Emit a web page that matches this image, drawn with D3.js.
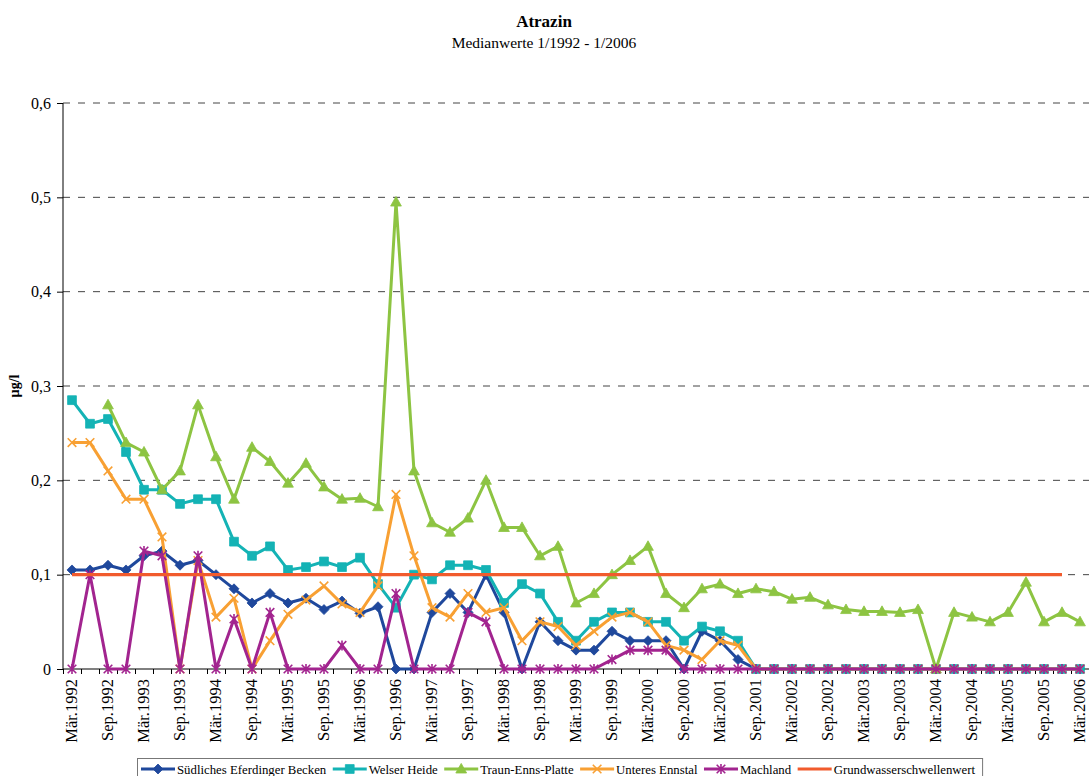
<!DOCTYPE html>
<html>
<head>
<meta charset="utf-8">
<script src="https://cdn.jsdelivr.net/npm/d3@7"></script>
<style>
  body { margin: 0; background: #fff; }
  svg { display: block; }
  text { font-family: "Liberation Serif", "Times New Roman", serif; fill: #000; }
</style>
</head>
<body>
<svg id="chart" width="1089" height="776" font-family="Liberation Serif, serif"></svg>
<script>
// Quarterly sampling dates (Mär, Jun, Sep, Dez)
const categories = [
  "Mär.1992","Jun.1992","Sep.1992","Dez.1992",
  "Mär.1993","Jun.1993","Sep.1993","Dez.1993",
  "Mär.1994","Jun.1994","Sep.1994","Dez.1994",
  "Mär.1995","Jun.1995","Sep.1995","Dez.1995",
  "Mär.1996","Jun.1996","Sep.1996","Dez.1996",
  "Mär.1997","Jun.1997","Sep.1997","Dez.1997",
  "Mär.1998","Jun.1998","Sep.1998","Dez.1998",
  "Mär.1999","Jun.1999","Sep.1999","Dez.1999",
  "Mär.2000","Jun.2000","Sep.2000","Dez.2000",
  "Mär.2001","Jun.2001","Sep.2001","Dez.2001",
  "Mär.2002","Jun.2002","Sep.2002","Dez.2002",
  "Mär.2003","Jun.2003","Sep.2003","Dez.2003",
  "Mär.2004","Jun.2004","Sep.2004","Dez.2004",
  "Mär.2005","Jun.2005","Sep.2005","Dez.2005",
  "Mär.2006"
];

// Axis labels shown on the category axis (every second quarter)
const xTickLabels = categories.filter((c, i) => i % 2 === 0);
const yTicks = [0, 0.1, 0.2, 0.3, 0.4, 0.5, 0.6];

// Median values in µg/l
const suedlichesEferdingerBecken = [
  0.105, 0.105, 0.11, 0.105, 0.12, 0.125, 0.11, 0.115, 0.1, 0.085,
  0.07, 0.08, 0.07, 0.075, 0.063, 0.072, 0.059, 0.066, 0, 0,
  0.06, 0.08, 0.06, 0.1, 0.06, 0, 0.05, 0.03, 0.02, 0.02,
  0.04, 0.03, 0.03, 0.03, 0, 0.04, 0.03, 0.01, 0, 0,
  0, 0, 0, 0, 0, 0, 0, 0, 0, 0,
  0, 0, 0, 0, 0, 0, 0
];
const welserHeide = [
  0.285, 0.26, 0.265, 0.23, 0.19, 0.19, 0.175, 0.18, 0.18, 0.135,
  0.12, 0.13, 0.105, 0.108, 0.114, 0.108, 0.118, 0.09, 0.065, 0.1,
  0.095, 0.11, 0.11, 0.105, 0.07, 0.09, 0.08, 0.05, 0.03, 0.05,
  0.06, 0.06, 0.05, 0.05, 0.03, 0.045, 0.04, 0.03, 0, 0,
  0, 0, 0, 0, 0, 0, 0, 0, 0, 0,
  0, 0, 0, 0, 0, 0, 0
];
const traunEnnsPlatte = [
  null, null, 0.28, 0.24, 0.23, 0.19, 0.21, 0.28, 0.225, 0.18,
  0.235, 0.22, 0.197, 0.218, 0.193, 0.18, 0.181, 0.172, 0.495, 0.21,
  0.155, 0.145, 0.16, 0.2, 0.15, 0.15, 0.12, 0.13, 0.07, 0.08,
  0.1, 0.115, 0.13, 0.08, 0.065, 0.085, 0.09, 0.08, 0.085, 0.082,
  0.074, 0.076, 0.068, 0.063, 0.061, 0.061, 0.06, 0.063, 0, 0.06,
  0.055, 0.05, 0.06, 0.092, 0.05, 0.06, 0.05
];
const unteresEnnstal = [
  0.24, 0.24, 0.21, 0.18, 0.18, 0.14, 0, 0.115, 0.055, 0.075,
  0, 0.03, 0.058, 0.073, 0.088, 0.069, 0.06, 0.088, 0.185, 0.12,
  0.065, 0.055, 0.08, 0.06, 0.065, 0.03, 0.05, 0.045, 0.025, 0.04,
  0.055, 0.06, 0.05, 0.025, 0.02, 0.01, 0.03, 0.025, 0, 0,
  0, 0, 0, 0, 0, 0, 0, 0, 0, 0,
  0, 0, 0, 0, 0, 0, 0
];
const machland = [
  0, 0.1, 0, 0, 0.125, 0.12, 0, 0.12, 0, 0.053,
  0, 0.06, 0, 0, 0, 0.025, 0, 0, 0.08, 0,
  0, 0, 0.06, 0.05, 0, 0, 0, 0, 0, 0,
  0.01, 0.02, 0.02, 0.02, 0, 0, 0, 0, 0, 0,
  0, 0, 0, 0, 0, 0, 0, 0, 0, 0,
  0, 0, 0, 0, 0, 0, 0
];
// Groundwater threshold value, drawn through Dez.2005
const grundwasserschwellenwert = categories.map((c, i) => i < 56 ? 0.1 : null);

const series = [
  { name: "Südliches Eferdinger Becken", values: suedlichesEferdingerBecken, color: "#1f489c", marker: "diamond" },
  { name: "Welser Heide", values: welserHeide, color: "#14b3b5", marker: "square" },
  { name: "Traun-Enns-Platte", values: traunEnnsPlatte, color: "#8dc442", marker: "triangle" },
  { name: "Unteres Ennstal", values: unteresEnnstal, color: "#f8a033", marker: "x" },
  { name: "Machland", values: machland, color: "#a2248f", marker: "star" },
  { name: "Grundwasserschwellenwert", values: grundwasserschwellenwert, color: "#f15b2d", marker: null }
];

const FONT = "Liberation Serif, serif";
const svg = d3.select("#chart");
const W = 1089;
const plot = { left: 63, right: 1089, top: 103, bottom: 669 };

const x = d3.scaleBand().domain(categories).range([plot.left, plot.right]).padding(0);
const cx = c => x(c) + x.bandwidth() / 2;
const y = d3.scaleLinear().domain([0, 0.6]).range([plot.bottom, plot.top]);

// Titles
svg.append("text").attr("x", 544).attr("y", 27).attr("text-anchor", "middle")
  .style("font-size", "17px").style("font-weight", "bold").text("Atrazin");
svg.append("text").attr("x", 544).attr("y", 48).attr("text-anchor", "middle")
  .style("font-size", "15.5px").text("Medianwerte 1/1992 - 1/2006");

// Dashed horizontal gridlines
svg.append("g").selectAll("line").data(yTicks.filter(v => v > 0)).join("line")
  .attr("x1", plot.left).attr("x2", W)
  .attr("y1", d => y(d)).attr("y2", d => y(d))
  .attr("stroke", "#444").attr("stroke-width", 1).attr("stroke-dasharray", "7,8");

// Y axis
const yAxis = svg.append("g").attr("transform", `translate(${plot.left},0)`)
  .call(d3.axisLeft(y).tickValues(yTicks).tickSize(6).tickPadding(6)
    .tickFormat(d => d === 0 ? "0" : d3.format(".1f")(d).replace(".", ",")));
yAxis.attr("font-family", FONT);
yAxis.select(".domain").attr("stroke", "#000").attr("d", `M0,${plot.top}V${plot.bottom}`);
yAxis.selectAll(".tick line").attr("stroke", "#000");
yAxis.selectAll("text").style("font-size", "16px").style("font-family", FONT);

svg.append("text")
  .attr("transform", "translate(19,386) rotate(-90)")
  .attr("text-anchor", "middle")
  .style("font-size", "14px").style("font-weight", "bold").text("µg/l");

// X axis line and tick marks at category boundaries
const boundary = d3.scaleLinear().domain([0, categories.length]).range([plot.left, plot.right]);
const xTicks = svg.append("g").attr("transform", `translate(0,${plot.bottom})`)
  .call(d3.axisBottom(boundary).tickValues(d3.range(categories.length + 1)).tickSize(5).tickFormat(""));
xTicks.select(".domain").attr("stroke", "#000").attr("d", `M${plot.left},0H${W}`);
xTicks.selectAll(".tick line").attr("stroke", "#000");

// Rotated category labels
const xLabels = svg.append("g").attr("transform", `translate(0,${plot.bottom})`)
  .call(d3.axisBottom(x).tickValues(xTickLabels).tickSize(0).tickPadding(0));
xLabels.attr("font-family", FONT);
xLabels.select(".domain").remove();
xLabels.selectAll("text")
  .style("font-size", "16.5px").style("font-family", FONT)
  .attr("text-anchor", "end")
  .attr("transform", "translate(0,10) rotate(-90)")
  .attr("x", 0).attr("y", 0).attr("dy", "0.3em");

// Marker shapes
function markerPath(type) {
  switch (type) {
    case "diamond": return "M0,-5L5,0L0,5L-5,0Z";
    case "square": return "M-4.4,-4.4H4.4V4.4H-4.4Z";
    case "triangle": return "M0,-5.6L5.4,4H-5.4Z";
    case "x": return "M-4.3,-4.3L4.3,4.3M-4.3,4.3L4.3,-4.3";
    case "star": return "M-4.3,-4.3L4.3,4.3M-4.3,4.3L4.3,-4.3M0,-5V5";
  }
  return null;
}
function drawMarker(g, type, color) {
  const filled = type === "diamond" || type === "square" || type === "triangle";
  g.append("path").attr("d", markerPath(type))
    .attr("fill", filled ? color : "none")
    .attr("stroke", color)
    .attr("stroke-width", filled ? 0.8 : 1.6);
}

const line = d3.line()
  .defined(d => d.v != null)
  .x(d => cx(d.c))
  .y(d => y(d.v));

series.forEach(s => {
  const pts = s.values.map((v, i) => ({ c: categories[i], v }));
  const g = svg.append("g");
  g.append("path").datum(pts)
    .attr("d", line)
    .attr("fill", "none")
    .attr("stroke", s.color)
    .attr("stroke-width", s.marker ? 3 : 3.4)
    .attr("stroke-linejoin", "round");
  if (s.marker) {
    pts.filter(d => d.v != null).forEach(d => {
      const m = g.append("g").attr("transform", `translate(${cx(d.c)},${y(d.v)})`);
      drawMarker(m, s.marker, s.color);
    });
  }
});

// Legend
const legend = svg.append("g");
const legendBox = legend.append("rect")
  .attr("x", 137.5).attr("y", 758.5).attr("height", 24)
  .attr("fill", "#fff").attr("stroke", "#777").attr("stroke-width", 1);
let lx = 141;
const ly = 769;
series.forEach(s => {
  legend.append("line").attr("x1", lx).attr("x2", lx + 34).attr("y1", ly).attr("y2", ly)
    .attr("stroke", s.color).attr("stroke-width", 3);
  if (s.marker) {
    const m = legend.append("g").attr("transform", `translate(${lx + 17},${ly})`);
    drawMarker(m, s.marker, s.color);
  }
  const t = legend.append("text").attr("x", lx + 36).attr("y", ly + 4.5)
    .style("font-size", "12.8px").text(s.name);
  lx += 36 + t.node().getComputedTextLength() + 6.5;
});
legendBox.attr("width", lx - 137.5 + 1);
</script>
</body>
</html>
